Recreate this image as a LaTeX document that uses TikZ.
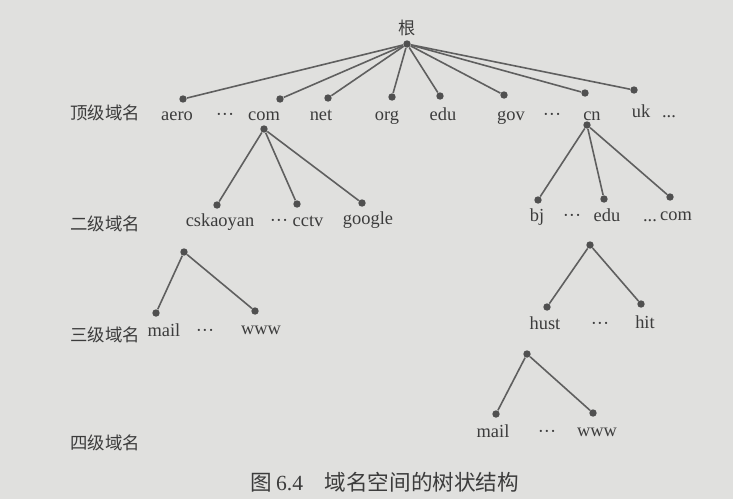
\documentclass[tikz,border=0pt]{standalone}
\usepackage{fontspec}
\setmainfont{Liberation Serif}
\newfontfamily\cjk{Noto Sans CJK SC}
\definecolor{paper}{RGB}{224,224,222}
\definecolor{ink}{RGB}{60,60,60}
\definecolor{dotgray}{RGB}{80,80,80}
\definecolor{linegray}{RGB}{95,95,95}

\begin{document}
\begin{tikzpicture}[x=0.5pt,y=-0.5pt,
		dot/.style={circle,fill=dotgray,inner sep=0pt,minimum size=3.7pt},
		dname/.style={text=ink,font=\fontsize{9.2}{10}\selectfont,inner sep=0pt,anchor=base},
		tier/.style={text=ink,font=\cjk\fontsize{8.7}{10}\selectfont,inner sep=0pt,anchor=west},
		link/.style={draw=linegray,line width=0.8pt}]
			\fill[paper] (0,0) rectangle (733,499);
			\useasboundingbox (0,0) rectangle (733,499);

			% root
			\node[text=ink,font=\cjk\fontsize{8.6}{10}\selectfont,inner sep=0pt] (gen) at (407,28) {根};
			\node[dot] (root) at (407,44) {};

			% top level
			\node[tier] (top) at (70,113) {顶级域名};
			\node[dot] (aero) at (183,99) {};
			\node[dot] (com) at (280,99) {};
			\node[dot] (net) at (328,98) {};
			\node[dot] (org) at (392,97) {};
			\node[dot] (edu) at (440,96) {};
			\node[dot] (gov) at (504,95) {};
			\node[dot] (cn) at (585,93) {};
			\node[dot] (uk) at (634,90) {};
			\node[dname] (aero-t) at (177,120) {aero};
			\node[dname] (dots1) at (225,120) {···};
			\node[dname] (com-t) at (264,120) {com};
			\node[dname] (net-t) at (321,120) {net};
			\node[dname] (org-t) at (387,120) {org};
			\node[dname] (edu-t) at (443,120) {edu};
			\node[dname] (gov-t) at (511,120) {gov};
			\node[dname] (dots2) at (552,120) {···};
			\node[dname] (cn-t) at (592,120) {cn};
			\node[dname] (uk-t) at (641,117) {uk};
			\node[dname] (dots3) at (669,117) {...};
			\foreach \n in {aero,com,net,org,edu,gov,cn,uk}
				\draw[link] (root) -- (\n);

			% second level
			\node[tier] (second) at (70,224) {二级域名};
			\node[dot] (comsub) at (264,129) {};
			\node[dot] (cskaoyan) at (217,205) {};
			\node[dot] (cctv) at (297,204) {};
			\node[dot] (google) at (362,203) {};
			\node[dname] (cskaoyan-t) at (220,226) {cskaoyan};
			\node[dname] (dots4) at (279,226) {···};
			\node[dname] (cctv-t) at (308,226) {cctv};
			\node[dname] (google-t) at (368,224) {google};
			\foreach \n in {cskaoyan,cctv,google}
				\draw[link] (comsub) -- (\n);

			\node[dot] (cnsub) at (587,125) {};
			\node[dot] (bj) at (538,200) {};
			\node[dot] (cnedu) at (604,199) {};
			\node[dot] (cncom) at (670,197) {};
			\node[dname] (bj-t) at (537,221) {bj};
			\node[dname] (dots5) at (572,221) {···};
			\node[dname] (cnedu-t) at (607,221) {edu};
			\node[dname] (dots6) at (650,221) {...};
			\node[dname] (cncom-t) at (676,220) {com};
			\foreach \n in {bj,cnedu,cncom}
				\draw[link] (cnsub) -- (\n);

			% third level
			\node[tier] (third) at (70,335) {三级域名};
			\node[dot] (cssub) at (184,252) {};
			\node[dot] (mail-a) at (156,313) {};
			\node[dot] (www-a) at (255,311) {};
			\node[dname] (mail-a-t) at (164,336) {mail};
			\node[dname] (dots7) at (205,336) {···};
			\node[dname] (www-a-t) at (261,334) {www};
			\draw[link] (cssub) -- (mail-a);
			\draw[link] (cssub) -- (www-a);

			\node[dot] (edusub) at (590,245) {};
			\node[dot] (hust) at (547,307) {};
			\node[dot] (hit) at (641,304) {};
			\node[dname] (hust-t) at (545,329) {hust};
			\node[dname] (dots8) at (600,329) {···};
			\node[dname] (hit-t) at (645,328) {hit};
			\draw[link] (edusub) -- (hust);
			\draw[link] (edusub) -- (hit);

			% fourth level
			\node[tier] (fourth) at (70,443) {四级域名};
			\node[dot] (hustsub) at (527,354) {};
			\node[dot] (mail-b) at (496,414) {};
			\node[dot] (www-b) at (593,413) {};
			\node[dname] (mail-b-t) at (493,437) {mail};
			\node[dname] (dots9) at (547,437) {···};
			\node[dname] (www-b-t) at (597,436) {www};
			\draw[link] (hustsub) -- (mail-b);
			\draw[link] (hustsub) -- (www-b);

			% caption
			\node[text=ink,font=\fontsize{10.8}{12}\selectfont,inner sep=0pt] (caption) at (385,482)
				{{\cjk 图}\,6.4\quad{\cjk 域名空间的树状结构}};
		\end{tikzpicture}
\end{document}
